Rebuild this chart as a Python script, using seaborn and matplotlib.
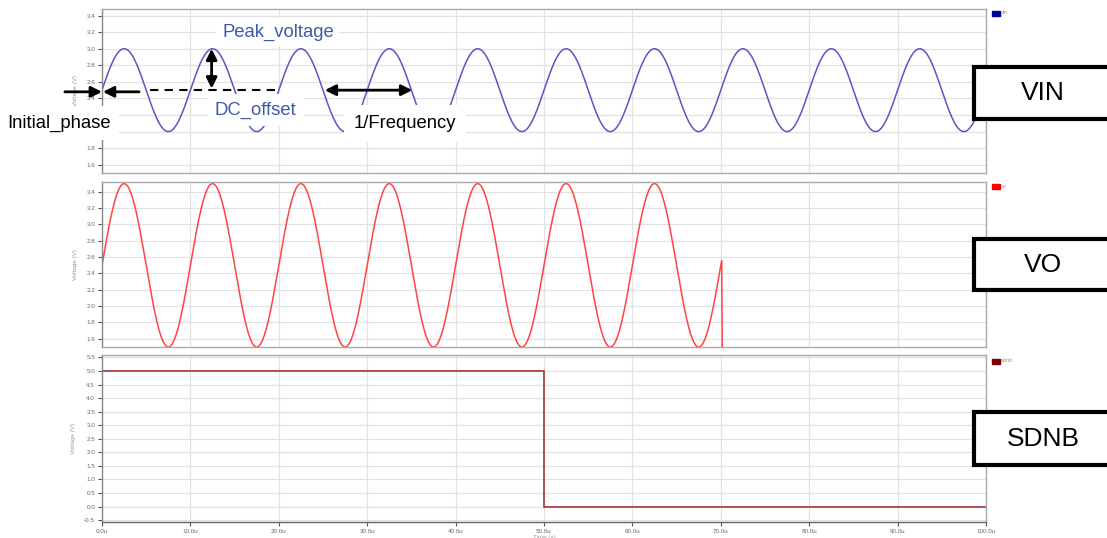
import numpy as np
import pandas as pd
import seaborn as sns
import matplotlib.pyplot as plt
import matplotlib.patches as mpatches

# ── source parameters (time in us, volts) ──
DC_OFFSET = 2.5
VIN_PEAK = 0.5
VO_PEAK = 1.0
PERIOD_US = 10.0          # 1/Frequency = 10 us  (100 kHz)
INITIAL_PHASE = 0.0
T_STOP = 100.0
VO_STOP = 70.1            # vo is cut off here
vo_tail_t = [70.1, 70.25]
vo_tail_v = [2.56, 0.0]

sdnb_t = [0.0, 50.0, 50.0, 100.0]
sdnb_v = [5.0, 5.0, 0.0, 0.0]

x_ticks = [0, 10, 20, 30, 40, 50, 60, 70, 80, 90, 100]
x_labels = [f"{v:.1f}u" for v in x_ticks]
vin_yticks = [1.6, 1.8, 2.0, 2.2, 2.4, 2.6, 2.8, 3.0, 3.2, 3.4]
sdnb_yticks = [-0.5, 0.0, 0.5, 1.0, 1.5, 2.0, 2.5, 3.0, 3.5, 4.0, 4.5, 5.0, 5.5]

panel_names = ["VIN", "VO", "SDNB"]
legend_names = ["vin", "vo", "sdnb"]

COL = {'vin': '#5858c4', 'vo': '#ff4444', 'sdnb': '#a84444',
       'vin_leg': '#00009c', 'vo_leg': '#ff0000', 'sdnb_leg': '#800000',
       'note': '#3f5aa6'}

t = np.linspace(0, T_STOP, 4001)
vin = DC_OFFSET + VIN_PEAK * np.sin(2 * np.pi * t / PERIOD_US + INITIAL_PHASE)
t_vo = t[t <= VO_STOP]
vo = DC_OFFSET + VO_PEAK * np.sin(2 * np.pi * t_vo / PERIOD_US + INITIAL_PHASE)
df_vin = pd.DataFrame({'t': t, 'v': vin})
df_vo = pd.DataFrame({'t': np.concatenate([t_vo, vo_tail_t]),
                      'v': np.concatenate([vo, vo_tail_v])})
df_sdnb = pd.DataFrame({'t': sdnb_t, 'v': sdnb_v})

sns.set_theme(style="white")
plt.rcParams['font.family'] = ['Liberation Sans', 'DejaVu Sans']

fig = plt.figure(figsize=(11.07, 5.38), dpi=100)
W, H = 1107, 538

def px_axes(x0, y0, x1, y1):
    return fig.add_axes([x0 / W, 1 - y1 / H, (x1 - x0) / W, (y1 - y0) / H])

ax1 = px_axes(102, 9, 986, 173)
ax2 = px_axes(102, 182, 986, 347)
ax3 = px_axes(102, 355, 986, 522)

sns.lineplot(data=df_vin, x='t', y='v', ax=ax1, color=COL['vin'], lw=1.1,
             estimator=None, sort=False)
sns.lineplot(data=df_vo, x='t', y='v', ax=ax2, color=COL['vo'], lw=1.1,
             estimator=None, sort=False)
sns.lineplot(data=df_sdnb, x='t', y='v', ax=ax3, color=COL['sdnb'], lw=1.3,
             estimator=None, sort=False)

ylims = [(1.5, 3.48), (1.5, 3.52), (-0.57, 5.59)]
yticks = [vin_yticks, vin_yticks, sdnb_yticks]
for ax, yl, yt in zip([ax1, ax2, ax3], ylims, yticks):
    ax.set_xlim(0, T_STOP)
    ax.set_ylim(*yl)
    ax.set_yticks(yt)
    ax.set_yticklabels([f"{v:.1f}" for v in yt])
    ax.set_xticks(x_ticks)
    ax.grid(True, color='#e2e2e2', lw=0.9)
    ax.set_axisbelow(True)
    for s in ax.spines.values():
        s.set_visible(True)
        s.set_color('#aaaaaa')
        s.set_linewidth(1.0)
    ax.spines['left'].set_color('#888888')
    ax.tick_params(axis='y', which='major', left=True, length=3, width=0.8,
                   color='#555555', labelsize=4.5, labelcolor='#666677', pad=2)
    ax.set_ylabel('Voltage (V)', fontsize=4.5, color='#999999', labelpad=6)
    ax.set_xlabel('')

for ax in [ax1, ax2]:
    ax.tick_params(axis='x', bottom=False, labelbottom=False)

ax3.spines['bottom'].set_color('#666666')
ax3.set_xticklabels(x_labels)
ax3.tick_params(axis='x', bottom=True, length=3, width=0.8, color='#555555',
                labelsize=4.5, labelcolor='#666677', pad=2)
ax3.set_xlabel('Time (s)', fontsize=4.5, color='#999999', labelpad=1)

# ── legends (tiny colour squares, top right) ──
for name, y, c in zip(legend_names, [13, 186, 361],
                      [COL['vin_leg'], COL['vo_leg'], COL['sdnb_leg']]):
    fig.patches.append(mpatches.Rectangle((992 / W, 1 - (y + 3) / H), 8 / W, 5 / H,
                                          transform=fig.transFigure, color=c))
    fig.text(1001 / W, 1 - y / H, name, fontsize=4, color='#999999', va='center')

# ── side label boxes ──
boxes = [(67, 119), (239, 290), (412, 465)]
for name, (y0, y1) in zip(panel_names, boxes):
    fig.patches.append(mpatches.Rectangle((974 / W, 1 - y1 / H), 150 / W, (y1 - y0) / H,
                                          transform=fig.transFigure, fill=True,
                                          facecolor='white', edgecolor='black',
                                          lw=3, clip_on=False, zorder=5))
    fig.text(1043 / W, 1 - (y0 + y1) / 2 / H, name, fontsize=19, color='black',
             ha='center', va='center', zorder=6)

# ── annotations on the VIN panel ──
arrow = dict(arrowstyle='-|>', color='black', lw=2, mutation_scale=16,
             shrinkA=0, shrinkB=0)
darrow = dict(arrowstyle='<|-|>', color='black', lw=2, mutation_scale=16,
              shrinkA=0, shrinkB=0)
ax1.annotate('', xy=(0.0, 2.48), xytext=(-4.2, 2.48), arrowprops=arrow,
             annotation_clip=False, zorder=12)
ax1.annotate('', xy=(0.1, 2.48), xytext=(4.2, 2.48), arrowprops=arrow,
             annotation_clip=False, zorder=12)
ax1.plot([5.4, 20.0], [2.5, 2.5], color='black', lw=1.5, ls=(0, (4, 3)), zorder=11)
ax1.annotate('', xy=(12.4, 3.0), xytext=(12.4, 2.52), arrowprops=darrow, zorder=12)
ax1.annotate('', xy=(25.2, 2.5), xytext=(35.1, 2.5), arrowprops=darrow, zorder=12)

FS = 13.3
wbox = dict(facecolor='white', edgecolor='none', pad=4)
ax1.text(19.9, 3.2, 'Peak_voltage', fontsize=FS, color=COL['note'],
         ha='center', va='center', bbox=wbox, zorder=10)
ax1.text(17.4, 2.26, 'DC_offset', fontsize=FS, color=COL['note'],
         ha='center', va='center', bbox=dict(facecolor='white', edgecolor='none', pad=5),
         zorder=10)
ax1.text(34.3, 2.1, '1/Frequency', fontsize=FS, color='black',
         ha='center', va='center', bbox=dict(facecolor='white', edgecolor='none', pad=7),
         zorder=10)
ax1.text(-4.9, 2.1, 'Initial_phase', fontsize=FS, color='black',
         ha='center', va='center', bbox=dict(facecolor='white', edgecolor='none', pad=6),
         zorder=10, clip_on=False)

fig.savefig('out.png', dpi=100)
